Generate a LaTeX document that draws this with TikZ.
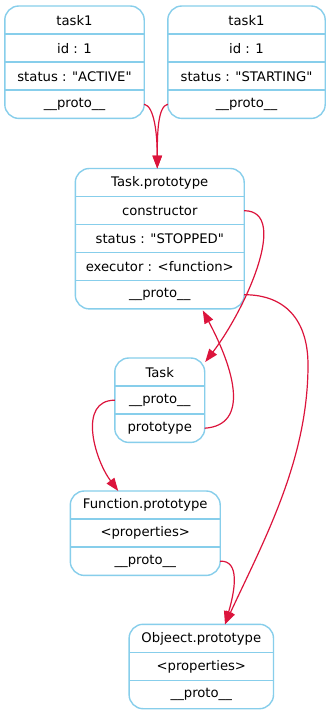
\documentclass[tikz,border=0pt]{standalone}
\usepackage{fontspec}
\setmainfont{DejaVu Sans}[Ligatures=TeXOff]
\usetikzlibrary{arrows.meta,calc}
\definecolor{boxblue}{RGB}{135,206,235}
\definecolor{edgered}{RGB}{220,20,60}
\newcommand{\recbox}[6]{%
  \foreach \txt [count=\i] in {#6} {
    \node[rowbox, minimum width=#4pt, anchor=north] (#1-\i) at (#2, {#3+28*(\i-1)}) {\txt};
    \ifnum\i>1 \draw[sepline] (#1-\i.north west) -- (#1-\i.north east);\fi
  }
  \draw[outer] (#1-1.north west) rectangle (#1-#5.south east);
}
\begin{document}
\begin{tikzpicture}[x=1pt,y=-1pt,
  rowbox/.style={minimum height=28pt, inner sep=0pt, font=\fontsize{13.2}{15}\selectfont},
  outer/.style={draw=boxblue, line width=1.4pt, rounded corners=14pt},
  sepline/.style={draw=boxblue, line width=1.4pt},
  link/.style={draw=edgered, line width=1.2pt, -{Triangle[length=13pt,width=9.5pt]}}]
\fill[white] (0,0) rectangle (331,715);
\useasboundingbox (0,0) rectangle (331,715);

\recbox{A}{74.5}{6}{139}{4}{task1, id : 1, status : "ACTIVE", \_\_proto\_\_}
\recbox{B}{246.5}{6}{157}{4}{task1, id : 1, status : "STARTING", \_\_proto\_\_}
\recbox{TP}{159.75}{168.5}{168.5}{5}{Task.prototype, constructor, status : "STOPPED", executor : <function>, \_\_proto\_\_}
\recbox{T}{159.75}{358}{89.5}{3}{Task, \_\_proto\_\_, prototype}
\recbox{F}{145.25}{491}{149.5}{3}{Function.prototype, <properties>, \_\_proto\_\_}
\recbox{O}{201.3}{624.3}{144}{3}{Objeect.prototype, <properties>, \_\_proto\_\_}

\coordinate (TPin) at ($(TP-1.north)+(-2.5,0)$);
\coordinate (Tin) at ($(T-1.north east)+(0.5,4)$);
\coordinate (TPback) at ($(TP-5.south)+(43,1.5)$);
\coordinate (Fin) at ($(F-1.north)+(-27,0)$);
\coordinate (Oin) at ($(O-1.north)+(23.7,0)$);
\coordinate (bend5) at (308,365);

\draw[link] (A-4.east) .. controls +(10,2) and +(0,-35) .. (TPin);
\draw[link] (B-4.west) .. controls +(-10,2) and +(0,-35) .. (TPin);
\draw[link] (TP-2.east) .. controls +(46,0) and +(40,-52) .. (Tin);
\draw[link] (T-3.east) .. controls +(45,-3) and +(32,60) .. (TPback);
\draw[link] (TP-5.east) .. controls +(41,0) and +(0,-45) .. (bend5) .. controls +(0,95) and +(39,-84) .. (Oin);
\draw[link] (T-2.west) .. controls +(-37,0) and +(-24,-32) .. (Fin);
\draw[link] (F-3.east) .. controls +(20,-1) and +(10,-34) .. (Oin);
\end{tikzpicture}
\end{document}
